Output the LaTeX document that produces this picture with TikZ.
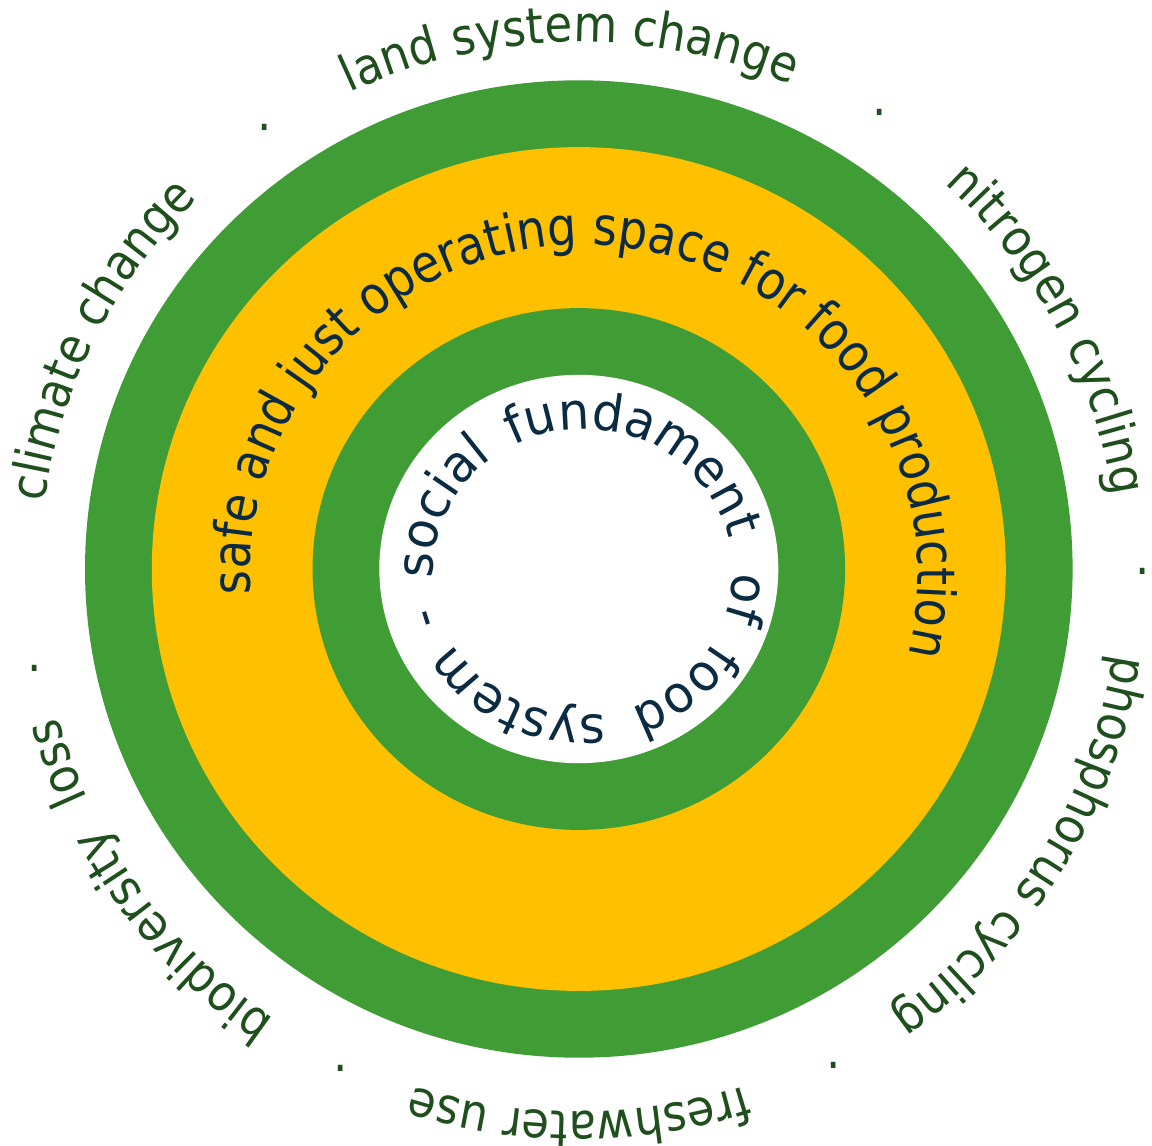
\documentclass[tikz,border=0pt]{standalone}
\usepackage{fontspec}
\usetikzlibrary{decorations.text}
\definecolor{ringgreen}{HTML}{409D36}
\definecolor{ringyellow}{HTML}{FFC000}
\definecolor{labelgreen}{HTML}{1E4F1C}
\definecolor{navytext}{HTML}{0A2B42}
\newfontfamily\outerfont[FakeStretch=0.9]{DejaVu Sans}
\newfontfamily\midfont[FakeStretch=0.87]{DejaVu Sans}
\newfontfamily\innerfont[FakeStretch=0.96]{DejaVu Sans}
\newcommand\outerfmt{\outerfont\fontsize{50}{60}\selectfont\color{labelgreen}}
\newcommand\midfmt{\midfont\fontsize{53}{63}\selectfont\color{navytext}}
\newcommand\innerfmt{\innerfont\fontsize{51}{61}\selectfont\color{navytext}}
% #1 format, #2 centre angle, #3 half span, #4 x radius, #5 y radius, #6 text
\newcommand\ringtext[6]{\path[decorate,decoration={text along path,text={|#1|#6},text align=center}]
  (#2+#3:#4 and #5) arc[start angle=#2+#3, end angle=#2-#3, x radius=#4, y radius=#5];}
\tikzset{sepdot/.style={inner sep=0pt, outer sep=0pt, font=\outerfmt}}
\begin{document}
\begin{tikzpicture}[x=1pt,y=1pt]
\useasboundingbox (0,0) rectangle (1152,-1146);
\fill[white] (0,0) rectangle (1152,-1146);
% rings
\fill[ringgreen] (578.8,-569) ellipse [x radius=493.8pt, y radius=488.7pt];
\fill[ringyellow] (578.8,-569) ellipse [x radius=427pt, y radius=421.9pt];
\fill[ringgreen] (578.8,-569) ellipse [x radius=266.3pt, y radius=260.9pt];
\fill[white] (578.8,-569) ellipse [x radius=199.5pt, y radius=194.2pt];
% outer labels
\begin{scope}[shift={(579,-577)}]
\ringtext{\outerfmt}{91}{35}{540pt}{535pt}{land system change}
\ringtext{\outerfmt}{28}{35}{540pt}{535pt}{nitrogen cycling}
\ringtext{\outerfmt}{-31.5}{35}{540pt}{535pt}{phosphorus cycling}
\ringtext{\outerfmt}{-90}{35}{540pt}{535pt}{freshwater use}
\ringtext{\outerfmt}{-138.3}{25}{540pt}{535pt}{biodiversity}
\ringtext{\outerfmt}{-160.2}{10}{540pt}{535pt}{loss}
\ringtext{\outerfmt}{153.5}{35}{540pt}{535pt}{climate change}
\end{scope}
% separators
\node[sepdot] (d1) at (265,-127) {.};
\node[sepdot] (d2) at (880,-112) {.};
\node[sepdot] (d3) at (1143,-571) {.};
\node[sepdot] (d4) at (35,-668) {.};
\node[sepdot] (d5) at (341,-1068) {.};
\node[sepdot] (d6) at (834,-1065) {.};
% yellow band text
\begin{scope}[shift={(584,-576)}]
\ringtext{\midfmt}{84.7}{118}{334pt}{331pt}{safe and just operating space for food production}
\end{scope}
% inner text
\begin{scope}[shift={(583,-572)}]
\ringtext{\innerfmt}{155}{40}{150pt}{143pt}{social}
\ringtext{\innerfmt}{65.5}{60}{150pt}{143pt}{fundament}
\ringtext{\innerfmt}{-9.7}{30}{150pt}{143pt}{of}
\ringtext{\innerfmt}{-50.3}{30}{150pt}{143pt}{food}
\ringtext{\innerfmt}{-116}{45}{150pt}{143pt}{system}
\ringtext{\innerfmt}{-163}{15}{150pt}{143pt}{-}
\end{scope}
\end{tikzpicture}
\end{document}
